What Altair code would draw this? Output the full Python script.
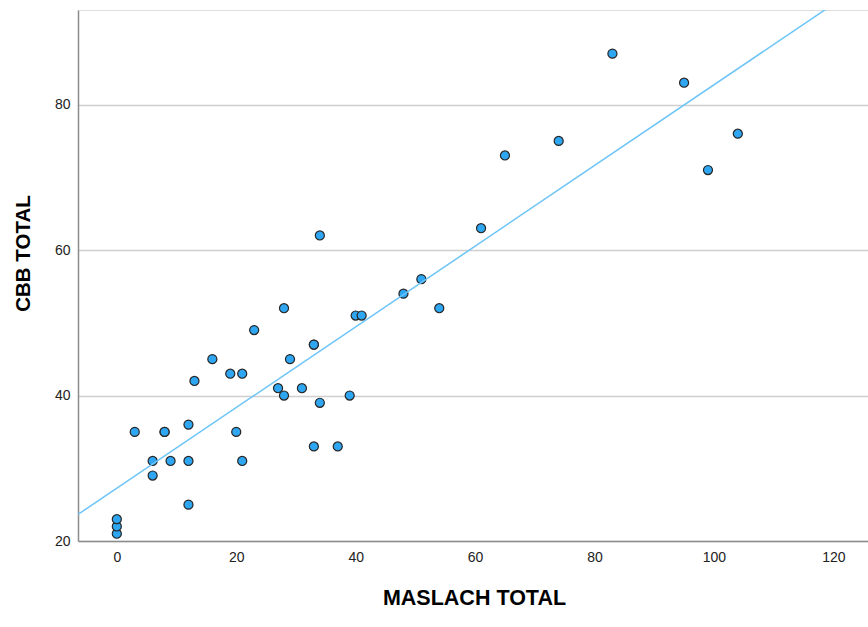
import altair as alt
import pandas as pd

# Respondent totals: MASLACH burnout score vs CBB score
maslach = [0, 0, 0, 3, 6, 6, 8, 8, 9, 12, 12, 12, 13, 16, 19, 21, 20, 21, 23,
           27, 28, 28, 29, 31, 33, 33, 33, 34, 34, 37, 39, 40, 41, 48, 51, 54,
           61, 65, 74, 83, 95, 99, 104]
cbb = [21, 22, 23, 35, 31, 29, 35, 35, 31, 36, 31, 25, 42, 45, 43, 43, 35, 31, 49,
       41, 40, 52, 45, 41, 47, 47, 33, 39, 62, 33, 40, 51, 51, 54, 56, 52,
       63, 73, 75, 87, 83, 71, 76]

x_ticks = [0, 20, 40, 60, 80, 100, 120]
y_ticks = [20, 40, 60, 80]
x_domain = [-6.5, 125.8]
y_domain = [20, 93]

df = pd.DataFrame({"MASLACH TOTAL": maslach, "CBB TOTAL": cbb})

FONT = "Liberation Sans"

x_enc = alt.X(
    "MASLACH TOTAL:Q",
    scale=alt.Scale(domain=x_domain, nice=False, zero=False),
    axis=alt.Axis(
        values=x_ticks, grid=False, ticks=False, tickSize=0,
        labelPadding=9, labelFontSize=14, labelColor="#222222",
        domainColor="#8c8c8c", domainWidth=1.5,
        title="MASLACH TOTAL", titleFontSize=21.5, titleFontWeight="bold",
        titleColor="#000000", titleX=396, titleY=57, titleAlign="center",
        titleBaseline="middle",
    ),
)
y_enc = alt.Y(
    "CBB TOTAL:Q",
    scale=alt.Scale(domain=y_domain, nice=False, zero=False),
    axis=alt.Axis(
        values=y_ticks, grid=True, gridColor="#cfcfcf", gridWidth=1.5,
        ticks=False, tickSize=0, labelPadding=8, labelFontSize=14,
        labelColor="#222222", domainColor="#8c8c8c", domainWidth=1.5,
        title="CBB TOTAL", titleFontSize=20.5, titleFontWeight="bold",
        titleColor="#000000", titleX=-55, titleY=243, titleAngle=270,
        titleAlign="center", titleBaseline="middle",
    ),
)

base = alt.Chart(df)

points = base.mark_point(
    filled=True, shape="circle", size=82, color="#2ea6f2",
    stroke="#262626", strokeWidth=1.2, opacity=1, clip=True,
).encode(x=x_enc, y=y_enc)

fit = base.transform_regression(
    "MASLACH TOTAL", "CBB TOTAL", extent=x_domain
).mark_line(color="#6cc4f8", strokeWidth=1.5, clip=True).encode(
    x=alt.X("MASLACH TOTAL:Q"), y=alt.Y("CBB TOTAL:Q")
)

chart = (
    alt.layer(points, fit)
    .properties(
        width=790, height=531,
        padding={"left": 78, "top": 10, "right": 0, "bottom": 86},
        autosize=alt.AutoSizeParams(type="none"),
        background="white",
    )
    .configure_view(stroke=None)
    .configure(font=FONT)
)

chart.save("out.html", embed_options={"renderer": "svg", "actions": False})
